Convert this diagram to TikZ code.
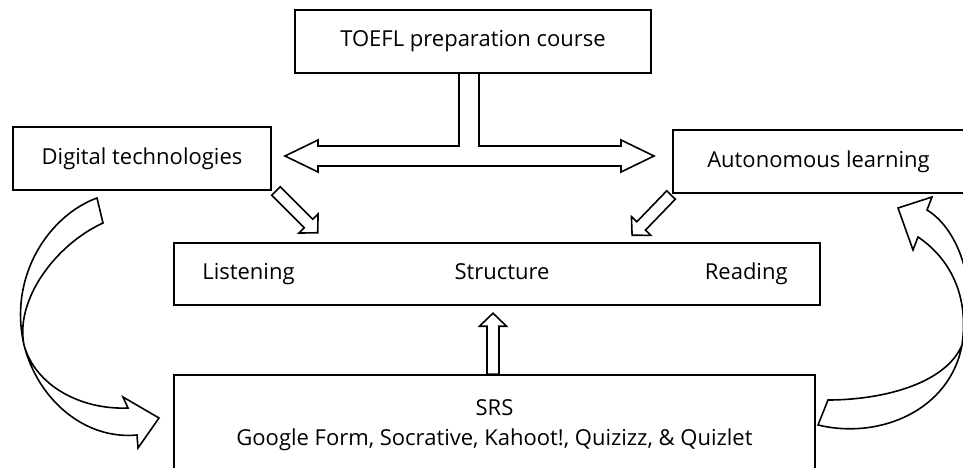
\documentclass[tikz,border=0pt]{standalone}
\usepackage{fontspec}
\setmainfont{Open Sans}
\usetikzlibrary{calc}
\tikzset{
  nd_box/.style={
    rectangle, draw=black, line width=1.6pt,
    inner sep=0pt, align=center,
    font=\fontsize{22}{30}\selectfont},
  nd_lbl/.style={
    inner sep=0pt, text height=16pt, text depth=5pt,
    font=\fontsize{22}{30}\selectfont},
  blk/.style={draw=black, line width=1.6pt, line join=miter},
}
%% straight block arrow: start, angle (on the page), length
\newcommand{\blkarrow}[3]{%
  \draw[blk,shift={#1},rotate=#2]
    (0,-6) -- (#3-13,-6) -- (#3-13,-13.5) -- (#3,0)
    -- (#3-13,13.5) -- (#3-13,6) -- (0,6) -- cycle;
}

\begin{document}
\begin{tikzpicture}[x=1pt,y=-1pt]

\useasboundingbox (0,0) rectangle (963,468);
\fill[white] (0,0) rectangle (963,468);
\clip (0,0) rectangle (963,468);

%% boxes
\node[nd_box, minimum width=356, minimum height=63] (toefl) at (473,41.5)
  {TOEFL preparation course};
\node[nd_box, minimum width=258, minimum height=63] (digital) at (142,158.5)
  {Digital technologies};
\node[nd_box, minimum width=291, minimum height=63] (auton) at (818.5,161.5)
  {Autonomous learning};
\node[nd_box, minimum width=646, minimum height=62] (skills) at (497,274) {};
\node[nd_box, minimum width=641, minimum height=100] (srs) at (494.5,425)
  {SRS\\Google Form, Socrative, Kahoot!, Quizizz, \& Quizlet};

\node[nd_lbl, anchor=west] (listen) at ([xshift=29pt]skills.west) {Listening};
\node[nd_lbl]              (struct) at ([xshift=5pt]skills.center) {Structure};
\node[nd_lbl, anchor=east] (read)   at ([xshift=-33pt]skills.east) {Reading};

%% T-shaped double arrow under the course box
\draw[blk] (459,73) -- (459,146) -- (318,146) -- (318,140) -- (285,156)
  -- (318,172) -- (318,166) -- (621,166) -- (621,172) -- (654,156)
  -- (621,140) -- (621,146) -- (479,146) -- (479,73);

%% small arrows into the skills box
\blkarrow{(276,191)}{-45}{59}
\blkarrow{(671,195)}{-134}{56}
\blkarrow{(srs.north -| 493,0)}{90}{61}

%% curved arrow, digital side
\draw[blk] (103,223) -- (97,198)
  .. controls (50,215) and (8,275) .. (24,345)
  .. controls (35,385) and (80,410) .. (128,408)
  -- (123,397) -- (159,418) -- (138,448) -- (137,435)
  .. controls (85,440) and (38,400) .. (24,345)
  .. controls (15,300) and (55,245) .. (103,223) -- cycle;

%% curved arrow, autonomous side
\draw[blk] (818,425) -- (828,400)
  .. controls (880,400) and (945,385) .. (962,345)
  .. controls (980,290) and (960,230) .. (927,210)
  -- (932,197) -- (898,208) -- (913,250) -- (918,237)
  .. controls (945,255) and (970,290) .. (962,345)
  .. controls (950,410) and (880,440) .. (818,425) -- cycle;

\end{tikzpicture}
\end{document}
